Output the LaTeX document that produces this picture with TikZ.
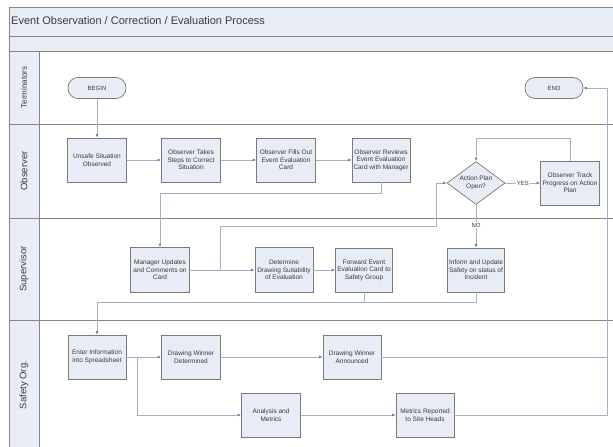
\documentclass[tikz,border=0pt]{standalone}
\usepackage{fontspec}
\setmainfont{Liberation Sans}
\usetikzlibrary{arrows.meta,shapes.geometric}
\definecolor{boxfill}{HTML}{E7ECF5}
\definecolor{bandfill}{HTML}{E9EEF6}
\definecolor{boxline}{HTML}{7A7A7A}
\definecolor{laneline}{HTML}{858585}
\definecolor{conn}{HTML}{A3B2CA}
\definecolor{tip}{HTML}{6F7F9C}
\definecolor{txt}{HTML}{3A3A3A}
\tikzset{
  proc/.style={draw=boxline, fill=boxfill, line width=0.7pt, minimum width=59pt, minimum height=44pt,
    inner sep=1pt, align=center, text=txt, font=\fontsize{6.5}{7.6}\selectfont},
  termbox/.style={draw=boxline, fill=boxfill, line width=0.7pt, rounded corners=10pt, minimum width=58pt,
    minimum height=21pt, inner sep=1pt, text=txt, font=\fontsize{6}{7}\selectfont},
  decision/.style={diamond, draw=boxline, fill=boxfill, line width=0.7pt, minimum width=58pt, minimum height=43pt,
    inner sep=0pt, aspect=1.35, align=center, text=txt, font=\fontsize{6.5}{7.6}\selectfont},
  flow/.style={draw=conn, line width=0.7pt},
  arr/.style={flow, -{Latex[length=3.5pt,width=3pt,color=tip]}},
  lbl/.style={fill=white, inner sep=1pt, text=txt, font=\fontsize{6}{7}\selectfont},
  lanehead/.style={rotate=90, text=txt, font=\fontsize{9.5}{11}\selectfont},
  laneline/.style={draw=laneline, line width=0.9pt}
}
\begin{document}
\begin{tikzpicture}[x=1pt,y=-1pt]
\useasboundingbox (0,0) rectangle (613,447);
\fill[white] (0,0) rectangle (613,447);
% bands and header column
\fill[bandfill] (9,7) rectangle (613,51);
\fill[bandfill] (9,51) rectangle (39,447);
\draw[laneline] (9,7) -- (613,7);
\draw[laneline] (9,36) -- (613,36);
\draw[laneline] (9,51) -- (613,51);
\draw[laneline] (9,124) -- (613,124);
\draw[laneline] (9,218) -- (613,218);
\draw[laneline] (9,320) -- (613,320);
\draw[laneline] (9,7) -- (9,447);
\draw[laneline] (39,51) -- (39,447);
\node[anchor=west, text=txt, font=\fontsize{11}{13}\selectfont, inner sep=0pt] (title) at (11,21) {Event Observation / Correction / Evaluation Process};
\node[lanehead, font=\fontsize{8}{10}\selectfont] (l1) at (24,87.5) {Terminators};
\node[lanehead] (l2) at (24,171) {Observer};
\node[lanehead] (l3) at (24,269) {Supervisor};
\node[lanehead] (l4) at (24,385) {Safety Org.};

% nodes
\node[termbox] (begin) at (97,88) {BEGIN};
\node[termbox] (end) at (554,88) {END};
\node[proc] (unsafe) at (97,160) {Unsafe Situation\\Observed};
\node[proc] (takes) at (191,160) {Observer Takes\\Steps to Correct\\Situation};
\node[proc] (fills) at (286,160) {Observer Fills Out\\Event Evaluation\\Card};
\node[proc, minimum width=58pt] (reviews) at (381,160) {Observer Reviews\\Event Evaluation\\Card with Manager};
\node[decision] (dia) at (476,183) {Action Plan\\Open?};
\node[proc] (track) at (570,183) {Observer Track\\Progress on Action\\Plan};
\node[proc, minimum height=45pt] (manager) at (160,270) {Manager Updates\\and Comments on\\Card};
\node[proc, minimum width=58pt, minimum height=45pt] (determine) at (284,270) {Determine\\Drawing Suitability\\of Evaluation};
\node[proc, minimum width=57pt] (forward) at (364,270) {Forward Event\\Evaluation Card to\\Safety Group};
\node[proc, minimum width=57pt] (inform) at (476,270) {Inform and Update\\Safety on status of\\Incident};
\node[proc, minimum width=58pt] (enter) at (97,357) {Enter Information\\into Spreadsheet};
\node[proc] (dwd) at (191,357) {Drawing Winner\\Determined};
\node[proc, minimum width=58pt] (dwa) at (352,357) {Drawing Winner\\Announced};
\node[proc] (analysis) at (271,415) {Analysis and\\Metrics};
\node[proc, minimum width=58pt] (metrics) at (425,415) {Metrics Reported\\to Site Heads};

% bend coordinates
\coordinate (c1) at (160,193);
\coordinate (b1) at (220,270);
\coordinate (c1b) at (436,226);
\coordinate (c2) at (570,138);
\coordinate (c3) at (476,138);
\coordinate (c4) at (97,302);
\coordinate (b2) at (137,357);
\coordinate (rt) at (607,88);

% connectors
\draw[arr] (begin) -- (unsafe);
\draw[arr] (unsafe) -- (takes);
\draw[arr] (takes) -- (fills);
\draw[arr] (fills) -- (reviews);
\draw[arr] (reviews.south) |- (c1) -- (manager.north);
\draw[arr] (manager) -- (determine);
\draw[arr] (b1) |- (c1b) |- (dia.west);
\draw[arr] (dia) -- node[lbl]{YES} (track);
\draw[arr] (track.north) -- (c2) -- (c3) -- (dia.north);
\draw[arr] (dia.south) -- node[lbl, pos=0.47]{NO} (inform.north);
\draw[arr] (determine) -- (forward);
\draw[flow] (forward.south) -- (forward.south |- c4);
\draw[arr] (inform.south) |- (c4) -- (enter.north);
\draw[arr] (enter) -- (dwd);
\draw[arr] (dwd) -- (dwa);
\draw[arr] (b2) |- (analysis.west);
\draw[arr] (analysis) -- (metrics);
\draw[flow] (dwa.east) -| (rt);
\draw[arr] (metrics.east) -| (rt) -- (end.east);
\end{tikzpicture}
\end{document}
